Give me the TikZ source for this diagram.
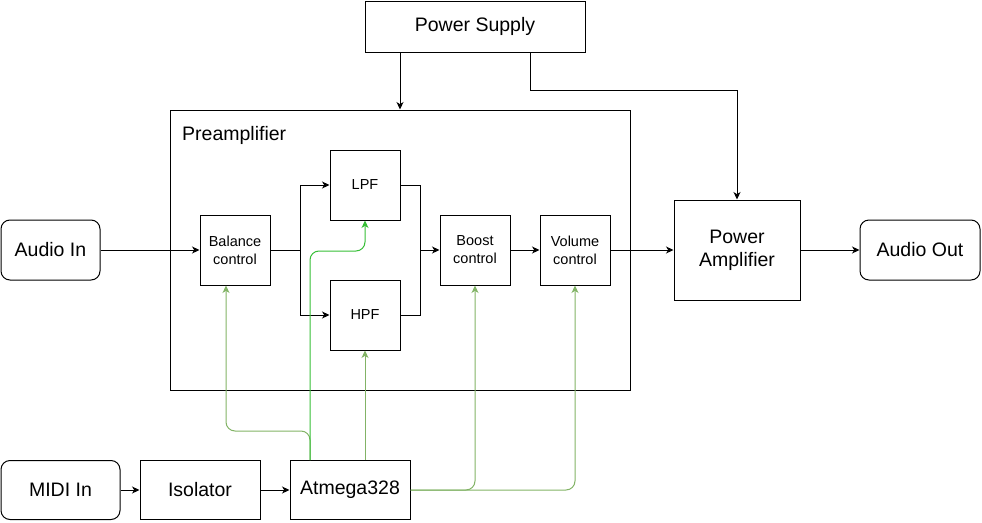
\documentclass[tikz,border=0pt]{standalone}
\usepackage{fontspec}
\setmainfont{Liberation Sans}
\usetikzlibrary{arrows.meta,calc}
\definecolor{sigblue}{HTML}{000000}
\definecolor{ctlgreen}{HTML}{82B366}
\definecolor{lpfgreen}{HTML}{36BE36}
\tikzset{
  x=1pt,y=-1pt,
  box/.style={draw=black,line width=1pt,fill=white,inner sep=0pt,align=center,font=\fontsize{19.5}{23}\selectfont},
  smallbox/.style={box,minimum width=70pt,minimum height=70pt,font=\fontsize{14.5}{18}\selectfont},
  roundbox/.style={box,rounded corners=9pt},
  conn/.style={line width=1pt,-{Stealth[length=7.5pt,width=7pt,inset=2.2pt]}},
  plain/.style={line width=1pt},
  ctl/.style={line width=1pt,draw=ctlgreen,rounded corners=9pt,-{Stealth[length=7.5pt,width=7pt,inset=2.2pt]}},
  ctllpf/.style={ctl,draw=lpfgreen},
}
\begin{document}
\begin{tikzpicture}
\useasboundingbox (0,0) rectangle (982,522);
% main boxes
\node[box,minimum width=220pt,minimum height=51pt] (ps) at (475,26.5) {Power Supply};
\node[draw,line width=1pt,minimum width=460pt,minimum height=280pt,inner sep=0pt] (pre) at (400,250) {};
\node[anchor=base west,inner sep=0pt,font=\fontsize{19.5}{23}\selectfont] (prelbl) at (182,140) {Preamplifier};
\node[roundbox,minimum width=99pt,minimum height=60pt] (ain) at (50.5,250) {Audio In};
\node[smallbox] (bal) at (235,250) {Balance\\control};
\node[smallbox] (lpf) at (365,185) {LPF};
\node[smallbox] (hpf) at (365,315) {HPF};
\node[smallbox] (boost) at (475,250) {Boost\\control};
\node[smallbox] (vol) at (575,250) {Volume\\control};
\node[box,minimum width=126pt,minimum height=100pt] (pa) at (737,250) {Power\\Amplifier};
\node[roundbox,minimum width=120pt,minimum height=60pt] (aout) at (920,250) {Audio Out};
\node[roundbox,minimum width=119pt,minimum height=59pt] (midi) at (60.5,490) {MIDI In};
\node[box,minimum width=120pt,minimum height=59pt] (iso) at (200,490) {Isolator};
\node[box,minimum width=120pt,minimum height=59pt] (atm) at (350,490) {Atmega328};
% coordinates
\coordinate (split) at (300,250);
\coordinate (join) at (420,250);
\coordinate (psr) at (530,52);
% signal path
\draw[conn] (ain) -- (bal);
\draw[plain] (bal.east) -- (split);
\draw[conn] (split) |- (lpf.west);
\draw[conn] (split) |- (hpf.west);
\draw[plain] (lpf.east) -| (join);
\draw[plain] (hpf.east) -| (join);
\draw[conn] (join) -- (boost.west);
\draw[conn] (boost) -- (vol);
\draw[conn] (vol.east) -- (pa.west);
\draw[conn] (pa) -- (aout);
% power
\draw[conn] (ps.south -| pre.north) -- (pre.north);
\draw[conn] (psr) -- (530,90) -| (pa.north);
% midi
\draw[conn] (midi) -- (iso);
\draw[conn] (iso) -- (atm);
% control lines
\draw[ctl] (310,460) -- (310,431) -- (226,431) -- (bal.south -| 226,0);
\draw[ctl] (atm.north -| 365,0) -- (hpf.south);
\draw[ctl] (atm.east) -- (475,490) -- (boost.south);
\draw[ctl] (atm.east) -- (575,490) -- (vol.south);
\draw[ctllpf] (310,460) -- (310,251) -- (365,251) -- (lpf.south);
\end{tikzpicture}
\end{document}
